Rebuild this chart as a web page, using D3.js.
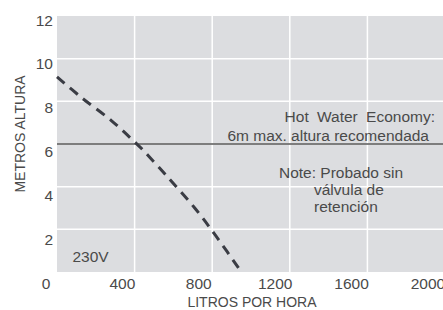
<!DOCTYPE html>
<html>
<head>
<meta charset="utf-8">
<script src="https://cdn.jsdelivr.net/npm/d3@7"></script>
<style>
  body { margin: 0; background: #fff; }
  text { font-family: "Liberation Sans", Arial, sans-serif; fill: #4a4a4a; }
</style>
</head>
<body>
<div id="chart"></div>
<script>
// pump curve
const flow = [0, 130, 280, 400, 440, 580, 710, 820, 950];
const head = [9.15, 8.15, 7.1, 6.1, 5.75, 4.35, 3.0, 1.68, 0];

const xTicks = [0, 400, 800, 1200, 1600, 2000];
const yTicks = [0, 2, 4, 6, 8, 10, 12];
const maxHead = 6;

const W = 443, H = 310;
const plot = {left: 57, right: 445, top: 16, bottom: 272};

const svg = d3.select("#chart")
    .append("svg")
    .attr("width", W)
    .attr("height", H);

const x = d3.scaleLinear().domain([0, 2000]).range([plot.left, plot.right]);
const y = d3.scaleLinear().domain([0, 12]).range([plot.bottom, plot.top]);

// tick labels sit a bit off the grid in the original
const xLab = d3.scaleLinear().domain([0, 2000]).range([46, 428]);
const yLab = d3.scaleLinear().domain([0, 12]).range([283, 20]);

svg.append("rect")
    .attr("x", plot.left)
    .attr("y", plot.top)
    .attr("width", plot.right - plot.left)
    .attr("height", plot.bottom - plot.top)
    .attr("fill", "#dcdde0");

// grid
svg.selectAll("line.vgrid")
    .data(xTicks.filter(d => d > 0))
  .enter().append("line")
    .attr("class", "vgrid")
    .attr("x1", d => x(d)).attr("x2", d => x(d))
    .attr("y1", plot.top).attr("y2", plot.bottom)
    .attr("stroke", "#fff").attr("stroke-width", 1.5);

svg.selectAll("line.hgrid")
    .data(yTicks.filter(d => d > 0 && d < 12))
  .enter().append("line")
    .attr("class", "hgrid")
    .attr("x1", plot.left).attr("x2", plot.right)
    .attr("y1", d => y(d)).attr("y2", d => y(d))
    .attr("stroke", "#fff").attr("stroke-width", 1.5);

// 6m reference line
svg.append("line")
    .attr("x1", plot.left).attr("x2", plot.right)
    .attr("y1", y(maxHead)).attr("y2", y(maxHead))
    .attr("stroke", "#555").attr("stroke-width", 1.5);

// curve
const line = d3.line()
    .x((d, i) => x(flow[i]))
    .y(d => y(d))
    .curve(d3.curveCatmullRom);

svg.append("path")
    .datum(head)
    .attr("d", line)
    .attr("fill", "none")
    .attr("stroke", "#3a3c44")
    .attr("stroke-width", 3)
    .attr("stroke-dasharray", "10,7");

// tick labels (the shared "0" is drawn once, on the x axis)
svg.selectAll("text.xt")
    .data(xTicks)
  .enter().append("text")
    .attr("class", "xt")
    .attr("x", d => xLab(d))
    .attr("y", 288.5)
    .attr("text-anchor", "middle")
    .style("font-size", "15.5px")
    .text(d => d);

svg.selectAll("text.yt")
    .data(yTicks.filter(d => d > 0))
  .enter().append("text")
    .attr("class", "yt")
    .attr("x", 53)
    .attr("y", d => yLab(d) + 5.5)
    .attr("text-anchor", "end")
    .style("font-size", "15.5px")
    .text(d => d);

// axis titles
svg.append("text")
    .attr("x", 252)
    .attr("y", 307)
    .attr("text-anchor", "middle")
    .style("font-size", "14px")
    .text("LITROS POR HORA");

svg.append("text")
    .attr("transform", "translate(25,134) rotate(-90)")
    .attr("text-anchor", "middle")
    .style("font-size", "14px")
    .text("METROS ALTURA");

// annotations
svg.append("text")
    .attr("x", 435).attr("y", 121.5)
    .attr("text-anchor", "end")
    .style("font-size", "15.5px")
    .style("word-spacing", "4px")
    .text("Hot Water Economy:");

svg.append("text")
    .attr("x", 429).attr("y", 140.5)
    .attr("text-anchor", "end")
    .style("font-size", "15.5px")
    .text("6m max. altura recomendada");

const note = ["Note: Probado sin", "válvula de", "retención"];
svg.selectAll("text.note")
    .data(note)
  .enter().append("text")
    .attr("class", "note")
    .attr("x", (d, i) => i === 0 ? 279 : 314)
    .attr("y", (d, i) => 178 + i * 17)
    .style("font-size", "15.5px")
    .text(d => d);

svg.append("text")
    .attr("x", 72.5).attr("y", 261.5)
    .style("font-size", "15.5px")
    .text("230V");
</script>
</body>
</html>
